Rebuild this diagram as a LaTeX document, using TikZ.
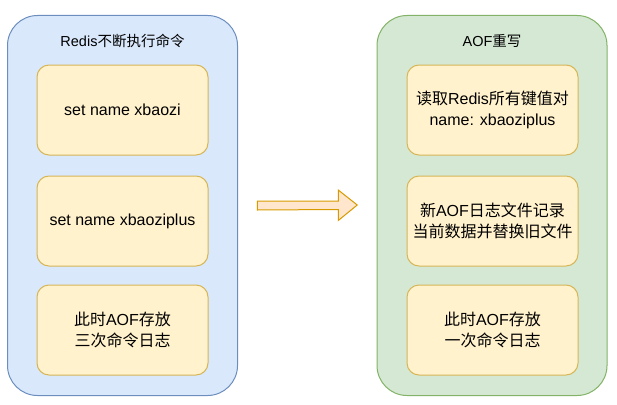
\documentclass[tikz,border=0pt]{standalone}
\usepackage{fontspec}
\setmainfont{Liberation Sans}
\newfontfamily\cjk{Noto Sans CJK SC}
\usepackage{xcolor}
\usetikzlibrary{positioning, calc}
\definecolor{aof-blue}{HTML}{DAE8FC}
\definecolor{aof-blueline}{HTML}{6C8EBF}
\definecolor{aof-green}{HTML}{D5E8D4}
\definecolor{aof-greenline}{HTML}{82B366}
\definecolor{aof-yellow}{HTML}{FFF2CC}
\definecolor{aof-yellowline}{HTML}{D6B656}
\definecolor{aof-orange}{HTML}{FFE6CC}
\definecolor{aof-orangeline}{HTML}{D79B00}
\newcommand{\zh}[1]{{\cjk #1}}

\begin{document}
\begin{tikzpicture}[
		x=1pt, y=-1pt,
		panel/.style={
			line width=1pt,
			rounded corners=30pt,
			minimum width=230pt,
			minimum height=380pt,
			inner sep=0pt
		},
		cmdbox/.style={
			draw=aof-yellowline, fill=aof-yellow,
			line width=1pt,
			rounded corners=12pt,
			minimum width=171pt,
			minimum height=90pt,
			align=center,
			font=\fontsize{16}{21}\selectfont
		},
		paneltitle/.style={
			font=\fontsize{14.5}{17}\selectfont
		}
		]
		
		\useasboundingbox (0,0) rectangle (617,404);
		
		% left panel - Redis
		\node[panel, draw=aof-blueline, fill=aof-blue] (redis) at (122.5,205.5) {};
		\node[paneltitle] (redistitle) at (122.5,41) {Redis\zh{不断执行命令}};
		\node[cmdbox] (cmdA) at (122.5,110) {set name xbaozi};
		\node[cmdbox] (cmdB) at (122.5,221) {set name xbaoziplus};
		\node[cmdbox] (cmdC) at (122.5,330) {\zh{此时}AOF\zh{存放}\\\zh{三次命令日志}};
		
		% right panel - rewrite
		\node[panel, draw=aof-greenline, fill=aof-green] (rewrite) at (492,205.5) {};
		\node[paneltitle] (rewritetitle) at (492,41) {AOF\zh{重写}};
		\node[cmdbox] (stepA) at (492.5,110) {\zh{读取}Redis\zh{所有键值对}\\name: xbaoziplus};
		\node[cmdbox] (stepB) at (492.5,221) {\zh{新}AOF\zh{日志文件记录}\\\zh{当前数据并替换旧文件}};
		\node[cmdbox] (stepC) at (492.5,330) {\zh{此时}AOF\zh{存放}\\\zh{一次命令日志}};
		
		% block arrow
		\coordinate (mid) at ($(redis.east)!0.5!(rewrite.west)$);
		\draw[draw=aof-orangeline, fill=aof-orange, line width=1pt]
			($(mid)+(-50,-4.5)$) -- ++(81,0) -- ++(0,-11) -- ($(mid)+(50,-0.5)$)
			-- ($(mid)+(31,15)$) -- ++(0,-11) -- ($(mid)+(-50,4.5)$) -- cycle;
		
	\end{tikzpicture}
\end{document}
